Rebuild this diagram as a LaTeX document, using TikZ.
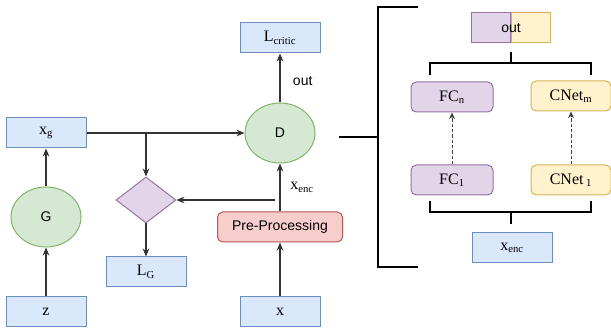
\documentclass[tikz,border=0pt]{standalone}
\usepackage{fontspec}
\setmainfont{Liberation Serif}
\setsansfont{Liberation Sans}
\usetikzlibrary{shapes.geometric, arrows.meta}
\definecolor{blueline}{HTML}{6C8EBF}
\definecolor{bluefill}{HTML}{DAE8FC}
\definecolor{greenline}{HTML}{82B366}
\definecolor{greenfill}{HTML}{D5E8D4}
\definecolor{purpleline}{HTML}{9673A6}
\definecolor{purplefill}{HTML}{E1D5E7}
\definecolor{redline}{HTML}{B85450}
\definecolor{redfill}{HTML}{F8CECC}
\definecolor{yellowline}{HTML}{D6B656}
\definecolor{yellowfill}{HTML}{FFF2CC}

\begin{document}
\begin{tikzpicture}[x=0.75pt, y=-0.75pt,
  box/.style={rectangle, draw=blueline, fill=bluefill, line width=0.75pt, minimum width=60pt, minimum height=22.5pt, inner sep=0pt, font=\fontsize{12}{14}\selectfont},
  net/.style={ellipse, draw=greenline, fill=greenfill, line width=0.75pt, minimum width=52.5pt, minimum height=45pt, inner sep=0pt, font=\sffamily\fontsize{10.5}{12}\selectfont},
  fcbox/.style={rectangle, rounded corners=4pt, draw=purpleline, fill=purplefill, line width=0.75pt, minimum width=61.5pt, minimum height=22.5pt, inner sep=0pt, font=\fontsize{12}{14}\selectfont},
  cnbox/.style={fcbox, draw=yellowline, fill=yellowfill, minimum width=60pt},
  arrow/.style={-{Stealth[length=6pt, width=5pt]}, line width=0.8pt, draw=black!80},
  darrow/.style={-{Stealth[length=5pt, width=4.5pt]}, line width=0.6pt, draw=black!75, dash pattern=on 2.5pt off 1.5pt},
  bracket/.style={line width=1.4pt, draw=black}
]
  \useasboundingbox (0,0) rectangle (611,331);

  % Generator side
  \node[box] (z) at (46,312) {z};
  \node[net] (G) at (46,217) {G};
  \node[box] (xg) at (46,133) {x\textsubscript{g}};

  % Loss of the generator
  \node[diamond, draw=purpleline, fill=purplefill, line width=0.75pt, minimum width=45pt, minimum height=34.5pt, inner sep=0pt] (dia) at (146,200) {};
  \node[box] (LG) at (146,272) {L\textsubscript{G}};

  % Critic side
  \node[box] (x) at (280,312) {x};
  \node[rectangle, rounded corners=4pt, draw=redline, fill=redfill, line width=0.75pt, minimum width=93.75pt, minimum height=22.5pt, font=\sffamily\fontsize{10.5}{12}\selectfont] (pre) at (280,227) {Pre-Processing};
  \node[net] (D) at (280,133) {D};
  \node[box] (Lc) at (280,38) {L\textsubscript{critic}};

  \coordinate (split) at (146,133);
  \coordinate (encin) at (275,200);
  \coordinate (dout) at (339,137);
  \coordinate (bin) at (378,137);

  % Connectors
  \draw[arrow] (z) -- (G);
  \draw[arrow] (G) -- (xg);
  \draw[arrow] (xg) -- (D);
  \draw[arrow] (split) -- (dia);
  \draw[arrow] (encin) -- (dia);
  \draw[arrow] (dia) -- (LG);
  \draw[arrow] (x) -- (pre);
  \draw[arrow] (pre) -- node[right, xshift=4pt, font=\fontsize{12}{14}\selectfont] {x\textsubscript{enc}} (D);
  \draw[arrow] (D) -- node[right, xshift=6pt, yshift=-2pt, font=\sffamily\fontsize{10.5}{12}\selectfont] {out} (Lc);

  % Inside the critic
  \draw[bracket] (dout) -- (bin);
  \draw[bracket] (418,7) -- (378,7) -- (378,267) -- (418,267);

  \node[rectangle, draw=purpleline, fill=purplefill, line width=0.75pt, minimum width=29.25pt, minimum height=22.5pt, inner sep=0pt, anchor=east] (outl) at (511,28) {};
  \node[rectangle, draw=yellowline, fill=yellowfill, line width=0.75pt, minimum width=29.25pt, minimum height=22.5pt, inner sep=0pt, anchor=west] (outr) at (511,28) {};
  \node[font=\sffamily\fontsize{10.5}{12}\selectfont] (outtxt) at (511,28) {out};

  \node[fcbox] (FCn) at (452,97) {FC\textsubscript{n}};
  \node[cnbox] (CNm) at (571,96) {CNet\textsubscript{m}};
  \node[fcbox] (FC1) at (452,180) {FC\textsubscript{1}};
  \node[cnbox] (CN1) at (571,180) {CNet\,\textsubscript{1}};
  \node[box] (xenc) at (512,248) {x\textsubscript{enc}};

  \draw[darrow] (FC1) -- (FCn);
  \draw[darrow] (CN1) -- (CNm);

  \draw[bracket] (511,52) -- (511,63);
  \draw[bracket] (430,75) -- (430,63) -- (591,63) -- (591,75);
  \draw[bracket] (430,201) -- (430,212) -- (591,212) -- (591,201);
  \draw[bracket] (511,212) -- (511,224);
\end{tikzpicture}
\end{document}
